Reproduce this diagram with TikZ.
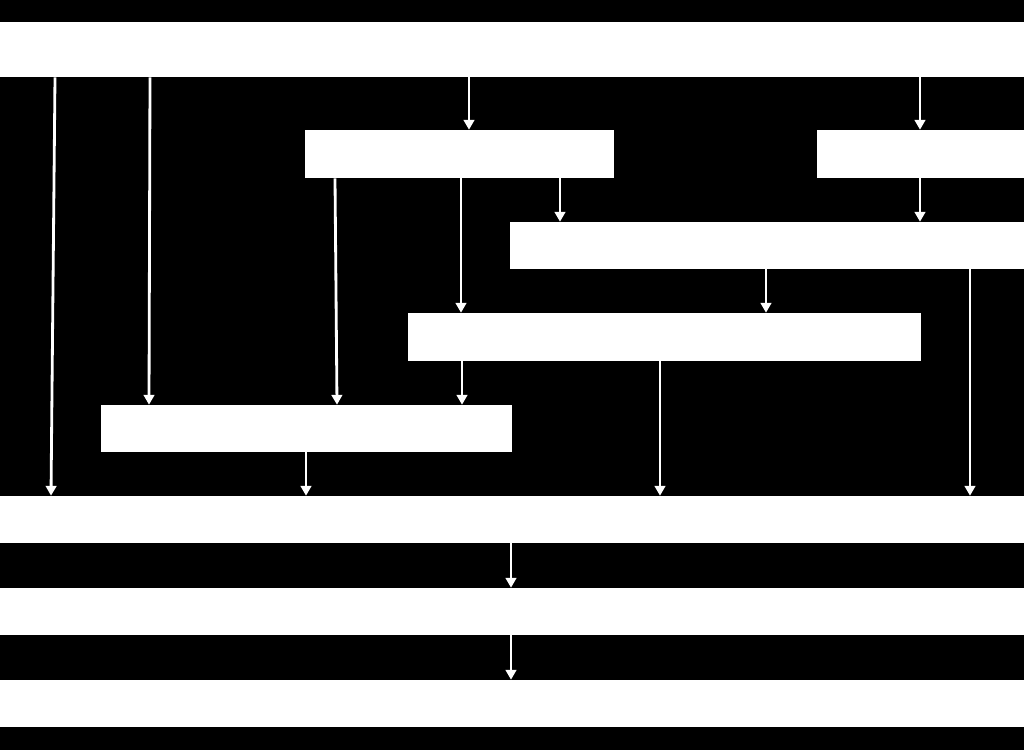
\documentclass[tikz,border=0pt]{standalone}
\usetikzlibrary{arrows.meta, positioning}

\begin{document}
\begin{tikzpicture}[
        >={Triangle[length=7pt,width=7.5pt]},
        block/.style={rectangle, fill=white, draw=none, inner sep=0pt, minimum height=1.175cm},
        link/.style={->, draw=white, line width=2pt, shorten >=0pt, shorten <=0pt}
        ]

        % background and page size
        \fill[black] (0,0) rectangle (25.6,-18.75);

        \node[block, minimum width=25.6cm, minimum height=1.375cm] (top) at (12.8,-1.2375)     {};
        \node[block, minimum width=7.725cm, minimum height=1.2cm]  (left) at (11.4875,-3.85)   {};
        \node[block, minimum width=5.175cm, minimum height=1.2cm]  (right) at (23.0125,-3.85)  {};
        \node[block, minimum width=12.85cm]                        (midr) at (19.175,-6.1375)  {};
        \node[block, minimum width=12.825cm, minimum height=1.2cm] (midc) at (16.6125,-8.425)  {};
        \node[block, minimum width=10.275cm]                       (midl) at (7.6625,-10.7125) {};
        \node[block, minimum width=25.6cm]                         (join) at (12.8,-12.9875)   {};
        \node[block, minimum width=25.6cm]                         (pre)  at (12.8,-15.2875)   {};
        \node[block, minimum width=25.6cm]                         (out)  at (12.8,-17.5875)   {};

        % connectors: source / x at source / target / x at target
        \foreach \a/\xa/\b/\xb in {top/1.375/join/1.275, top/3.75/midl/3.725,
                top/11.725/left/11.725, top/23.0/right/23.0,
                left/8.375/midl/8.425, left/11.525/midc/11.525, left/14.0/midr/14.0,
                right/23.0/midr/23.0,
                midr/19.15/midc/19.15, midr/24.25/join/24.25,
                midc/11.55/midl/11.55, midc/16.5/join/16.5,
                midl/7.65/join/7.65,
                join/12.775/pre/12.775, pre/12.775/out/12.775}
            \draw[link] (\a.south -| \xa,0) -- (\b.north -| \xb,0);
\end{tikzpicture}
\end{document}
